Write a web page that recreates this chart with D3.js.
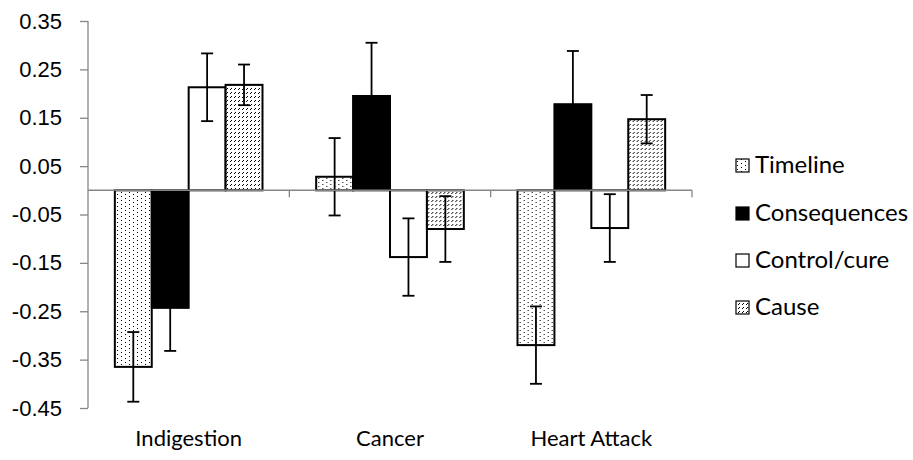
<!DOCTYPE html>
<html>
<head>
<meta charset="utf-8">
<script src="https://cdn.jsdelivr.net/npm/d3@7"></script>
<style>
  body { margin: 0; background: #fff; }
  svg { display: block; font-family: Lato, 'Open Sans', sans-serif; }
  .tick-label { font-size: 22px; fill: #000; }
  .cat-label { font-size: 22px; fill: #000; }
  .legend-label { font-size: 24px; fill: #000; }
  pattern rect { shape-rendering: crispEdges; }
</style>
</head>
<body>
<div id="chart"></div>
<script>
const categories = ['Indigestion', 'Cancer', 'Heart Attack']
const seriesNames = ['Timeline', 'Consequences', 'Control/cure', 'Cause']

const timeline     = [-0.365, 0.028, -0.32]
const consequences = [-0.243, 0.195, 0.178]
const controlCure  = [0.213, -0.138, -0.078]
const cause        = [0.218, -0.080, 0.147]

const timelineErr     = [0.072, 0.080, 0.080]
const consequencesErr = [0.089, 0.110, 0.110]
const controlCureErr  = [0.070, 0.080, 0.070]
const causeErr        = [0.042, 0.068, 0.050]

const yTicks = [0.35, 0.25, 0.15, 0.05, -0.05, -0.15, -0.25, -0.35, -0.45]

const values = [timeline, consequences, controlCure, cause]
const errors = [timelineErr, consequencesErr, controlCureErr, causeErr]

// ---------- Dimensions ----------
const width = 913
const height = 460
const plot = { left: 88, right: 692, top: 21, bottom: 408 }
const axisColor = '#868686'

const svg = d3.select('#chart')
  .append('svg')
  .attr('width', width)
  .attr('height', height)

// ---------- Patterns ----------
const defs = svg.append('defs')

// dotted fill (Timeline)
const dots = defs.append('pattern')
  .attr('id', 'pat-dots')
  .attr('patternUnits', 'userSpaceOnUse')
  .attr('width', 8).attr('height', 4)
dots.append('rect').attr('width', 8).attr('height', 4).attr('fill', '#fff')
;[[1, 0], [5, 2]].forEach(([x, y]) => {
  dots.append('rect').attr('x', x).attr('y', y).attr('width', 1).attr('height', 1).attr('fill', '#000')
})

// dashed upward diagonal (Cause)
const diag = defs.append('pattern')
  .attr('id', 'pat-diag')
  .attr('patternUnits', 'userSpaceOnUse')
  .attr('width', 8).attr('height', 8)
diag.append('rect').attr('width', 8).attr('height', 8).attr('fill', '#fff')
for (let y = 0; y < 8; y++) {
  for (let x = 0; x < 8; x++) {
    if ((x + y) % 4 === 3 && Math.floor(y / 2) % 2 === 0) {
      diag.append('rect').attr('x', x).attr('y', y).attr('width', 1).attr('height', 1).attr('fill', '#000')
    }
  }
}

const fills = ['url(#pat-dots)', '#000', '#fff', 'url(#pat-diag)']

// ---------- Scales ----------
const y = d3.scaleLinear().domain([-0.45, 0.35]).range([plot.bottom, plot.top])

const x0 = d3.scaleBand()
  .domain(categories)
  .range([plot.left, plot.right])
  .paddingInner(0)
  .paddingOuter(0)

const x1 = d3.scaleBand()
  .domain(seriesNames)
  .range([0, x0.bandwidth()])
  .paddingInner(0)
  .paddingOuter(0.727)

const fmt = d => d3.format('.2f')(d).replace('\u2212', '-')

// ---------- Y axis ----------
const yAxis = svg.append('g')
  .attr('transform', `translate(${plot.left},0)`)
  .call(d3.axisLeft(y).tickValues(yTicks).tickSize(8).tickFormat(fmt))
yAxis.select('.domain').attr('stroke', axisColor).attr('stroke-width', 1.3)
  .attr('d', `M0,${plot.top}V${plot.bottom}`)
yAxis.selectAll('.tick line').attr('stroke', axisColor).attr('stroke-width', 1.3)
yAxis.selectAll('.tick text')
  .attr('class', 'tick-label')
  .attr('x', -26)
  .attr('font-size', null)
  .attr('font-family', null)

// ---------- Bars ----------
const groups = svg.append('g')
  .selectAll('g')
  .data(categories)
  .join('g')
  .attr('transform', d => `translate(${x0(d)},0)`)

seriesNames.forEach((s, si) => {
  groups.append('rect')
    .attr('x', x1(s))
    .attr('y', (d, i) => y(Math.max(0, values[si][i])))
    .attr('width', x1.bandwidth())
    .attr('height', (d, i) => Math.abs(y(values[si][i]) - y(0)))
    .attr('fill', fills[si])
    .attr('stroke', '#000')
    .attr('stroke-width', 2)
})

// ---------- Zero line (category axis) ----------
const xAxis = svg.append('g')
  .attr('transform', `translate(0,${y(0)})`)
xAxis.append('line')
  .attr('x1', plot.left).attr('x2', plot.right)
  .attr('stroke', axisColor).attr('stroke-width', 1.6)
xAxis.selectAll('.xtick')
  .data(categories)
  .join('line')
  .attr('class', 'xtick')
  .attr('x1', d => x0(d) + x0.bandwidth())
  .attr('x2', d => x0(d) + x0.bandwidth())
  .attr('y1', 0).attr('y2', 7)
  .attr('stroke', axisColor).attr('stroke-width', 1.3)

// ---------- Error bars ----------
seriesNames.forEach((s, si) => {
  const cx = x1(s) + x1.bandwidth() / 2
  const eb = groups.append('g')
  eb.append('line')
    .attr('x1', cx).attr('x2', cx)
    .attr('y1', (d, i) => y(values[si][i] + errors[si][i]))
    .attr('y2', (d, i) => y(values[si][i] - errors[si][i]))
    .attr('stroke', '#000').attr('stroke-width', 1.8)
  ;[1, -1].forEach(sign => {
    eb.append('line')
      .attr('x1', cx - 6).attr('x2', cx + 6)
      .attr('y1', (d, i) => y(values[si][i] + sign * errors[si][i]))
      .attr('y2', (d, i) => y(values[si][i] + sign * errors[si][i]))
      .attr('stroke', '#000').attr('stroke-width', 1.8)
  })
})

// ---------- Category labels ----------
svg.append('g')
  .selectAll('text')
  .data(categories)
  .join('text')
  .attr('class', 'cat-label')
  .attr('x', d => x0(d) + x0.bandwidth() / 2)
  .attr('y', 446)
  .attr('text-anchor', 'middle')
  .text(d => d)

// ---------- Legend ----------
const legend = svg.append('g').attr('transform', 'translate(736,0)')
const legendY = [165, 213, 260, 307]
const items = legend.selectAll('g')
  .data(seriesNames)
  .join('g')
  .attr('transform', (d, i) => `translate(0,${legendY[i]})`)
items.append('rect')
  .attr('x', 0).attr('y', -6)
  .attr('width', 13).attr('height', 13)
  .attr('fill', (d, i) => fills[i])
  .attr('stroke', '#000').attr('stroke-width', 1.2)
items.append('text')
  .attr('class', 'legend-label')
  .attr('x', 19)
  .attr('dy', '0.35em')
  .text(d => d)
</script>
</body>
</html>
